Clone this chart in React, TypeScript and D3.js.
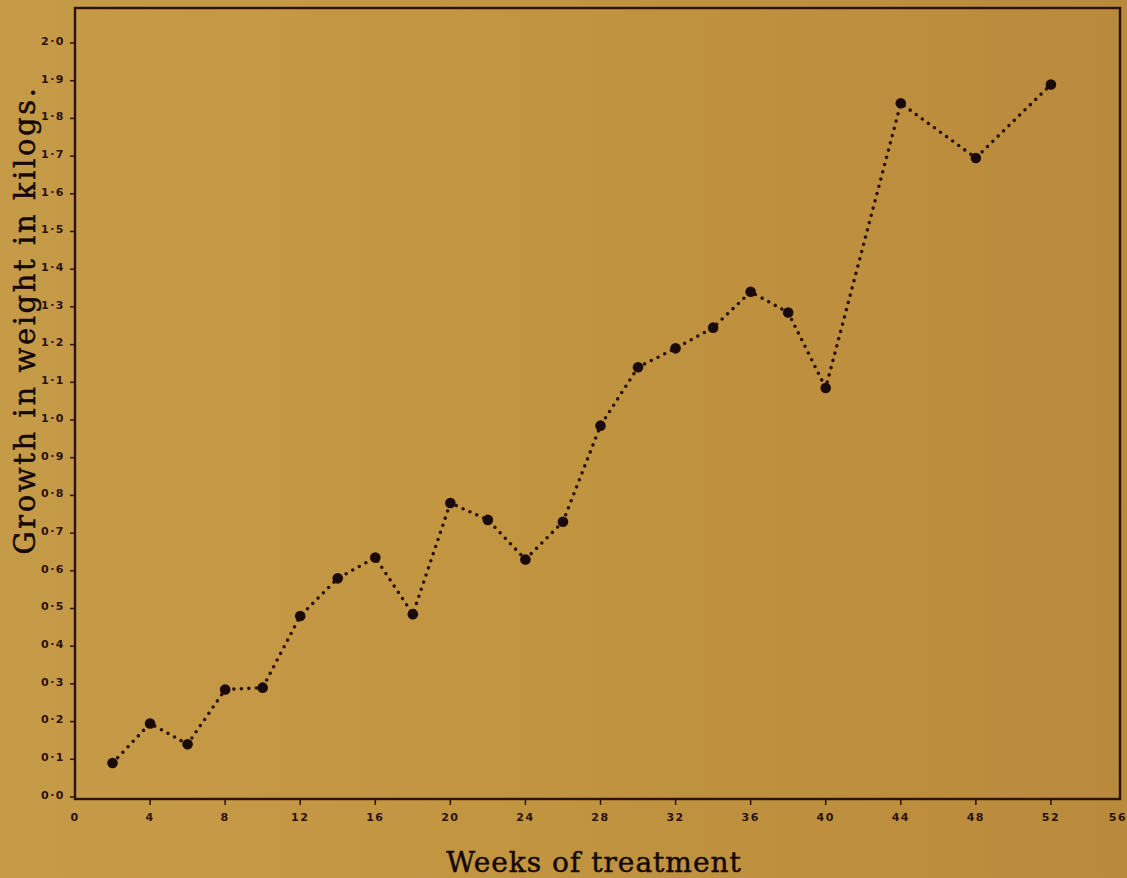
import React, { useEffect, useRef } from 'react';
import * as d3 from 'd3';

const weeks = [2, 4, 6, 8, 10, 12, 14, 16, 18, 20, 22, 24, 26, 28, 30, 32, 34, 36, 38, 40, 44, 48, 52];
const growth = [0.09, 0.195, 0.14, 0.285, 0.29, 0.48, 0.58, 0.635, 0.485, 0.78, 0.735, 0.63, 0.73, 0.985, 1.14, 1.19, 1.245, 1.34, 1.285, 1.085, 1.84, 1.695, 1.89];
const xTicks = [0, 4, 8, 12, 16, 20, 24, 28, 32, 36, 40, 44, 48, 52, 56];
const yTicks = d3.range(0, 21).map(i => i / 10);

const W = 1127;
const H = 878;
const ink = '#2a120e';

const App: React.FC = () => {
    const svgRef = useRef<SVGSVGElement>(null);

    useEffect(() => {
        const svg = d3.select(svgRef.current);
        svg.selectAll('*').remove();

        const x = d3.scaleLinear().domain([0, 56]).range([75, 1126]);
        const y = d3.scaleLinear().domain([0, 2]).range([797, 43]);

        // paper background
        const defs = svg.append('defs');
        const grad = defs.append('linearGradient').attr('id', 'paper').attr('x1', '0').attr('x2', '1').attr('y1', '0').attr('y2', '0');
        grad.append('stop').attr('offset', '0').attr('stop-color', '#c69b47');
        grad.append('stop').attr('offset', '0.5').attr('stop-color', '#c19440');
        grad.append('stop').attr('offset', '1').attr('stop-color', '#b98a3c');
        svg.append('rect').attr('width', W).attr('height', H).attr('fill', 'url(#paper)');

        // frame
        svg.append('rect')
            .attr('x', 75).attr('y', 8)
            .attr('width', 1120 - 75).attr('height', 799 - 8)
            .attr('fill', 'none')
            .attr('stroke', ink)
            .attr('stroke-width', 2.4);

        const tickFont = (sel: d3.Selection<SVGTextElement, number, SVGGElement, unknown>) =>
            sel.style('font-family', '"DejaVu Sans", sans-serif')
                .style('font-size', '11px')
                .style('font-weight', 'bold')
                .style('letter-spacing', '1.5px')
                .style('fill', ink);

        // y ticks
        const yg = svg.append('g');
        yg.selectAll('line').data(yTicks).enter().append('line')
            .attr('x1', 70).attr('x2', 75)
            .attr('y1', d => y(d)).attr('y2', d => y(d))
            .attr('stroke', ink).attr('stroke-width', 1.5);
        yg.selectAll<SVGTextElement, number>('text').data(yTicks).enter().append('text')
            .attr('x', 65).attr('y', d => y(d) - 2)
            .attr('dy', '0.35em')
            .attr('text-anchor', 'end')
            .call(tickFont)
            .text(d => d.toFixed(1).replace('.', '·'));

        // x ticks
        const xg = svg.append('g');
        xg.selectAll('line').data(xTicks.slice(1, -1)).enter().append('line')
            .attr('x1', d => x(d)).attr('x2', d => x(d))
            .attr('y1', 799).attr('y2', 805)
            .attr('stroke', ink).attr('stroke-width', 1.5);
        xg.selectAll<SVGTextElement, number>('text').data(xTicks).enter().append('text')
            .attr('x', d => Math.min(x(d), 1118)).attr('y', 817)
            .attr('dy', '0.35em')
            .attr('text-anchor', 'middle')
            .call(tickFont)
            .text(d => String(d));

        // dotted line
        const pts: [number, number][] = weeks.map((w, i) => [w, growth[i]]);
        const line = d3.line<[number, number]>().x(d => x(d[0])).y(d => y(d[1]));
        svg.append('path')
            .attr('d', line(pts) || '')
            .attr('fill', 'none')
            .attr('stroke', ink)
            .attr('stroke-width', 3.6)
            .attr('stroke-linecap', 'round')
            .attr('stroke-dasharray', '0 7.5');

        svg.append('g').selectAll('circle').data(pts).enter().append('circle')
            .attr('cx', d => x(d[0])).attr('cy', d => y(d[1]))
            .attr('r', 5.3)
            .attr('fill', '#1a0a0a');

        // axis titles
        svg.append('text')
            .attr('x', 594).attr('y', 872)
            .attr('text-anchor', 'middle')
            .style('font-family', '"DejaVu Serif", serif')
            .style('font-size', '28px')
            .style('letter-spacing', '1px')
            .style('fill', '#150808')
            .style('stroke', '#150808')
            .style('stroke-width', '0.5px')
            .text('Weeks of treatment');

        svg.append('text')
            .attr('transform', 'translate(35,320) rotate(-90)')
            .attr('text-anchor', 'middle')
            .style('font-family', '"DejaVu Serif", serif')
            .style('font-size', '29px')
            .style('letter-spacing', '2.6px')
            .style('fill', '#150808')
            .style('stroke', '#150808')
            .style('stroke-width', '0.5px')
            .text('Growth in weight in kilogs.');
    }, []);

    return (
        <svg
            ref={svgRef}
            width={W}
            height={H}
            style={{ position: 'absolute', left: 0, top: 0, display: 'block' }}
        />
    );
};

export default App;
